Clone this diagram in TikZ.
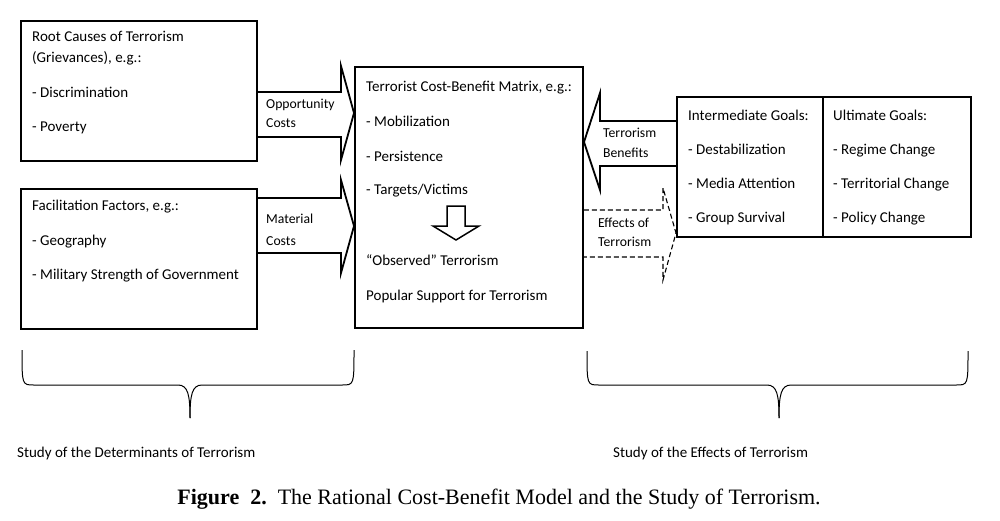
\documentclass[tikz,border=0pt]{standalone}
\usepackage{fontspec}
\setmainfont{Carlito}
\newfontfamily\capfont{Liberation Serif}
\begin{document}
\begin{tikzpicture}[x=1pt,y=-1pt,
  box/.style={draw,line width=1.8pt,anchor=north west,inner sep=0pt},
  txt/.style={anchor=base west,inner sep=0pt,font=\fontsize{15}{18}\selectfont},
  lbl/.style={anchor=base west,inner sep=0pt,font=\fontsize{13.7}{16}\selectfont},
  blockarrow/.style={draw,line width=1.8pt,miter limit=20},
  dasharrow/.style={draw,line width=1.1pt,dash pattern=on 5pt off 3pt},
  bracestyle/.style={draw,line width=1pt}]
\useasboundingbox (0,0) rectangle (1000,520);
% boxes
\node[box,minimum width=236pt,minimum height=140pt] (A) at (20,20) {};
\node[box,minimum width=236pt,minimum height=140pt] (B) at (20,188) {};
\node[box,minimum width=228pt,minimum height=261pt] (C) at (354,66) {};
\node[box,minimum width=146pt,minimum height=140pt] (I) at (676,96) {};
\node[box,minimum width=148pt,minimum height=140pt] (U) at (822,96) {};
% texts box A
\node[txt] (a1) at (32,41) {Root Causes of Terrorism};
\node[txt] (a2) at (32,62) {(Grievances), e.g.:};
\node[txt] (a3) at (32,97) {- Discrimination};
\node[txt] (a4) at (32,131) {- Poverty};
% box B
\node[txt] (b1) at (32,210) {Facilitation Factors, e.g.:};
\node[txt] (b2) at (32,245) {- Geography};
\node[txt] (b3) at (32,279) {- Military Strength of Government};
% center
\node[txt] (c1) at (366,91) {Terrorist Cost-Benefit Matrix, e.g.:};
\node[txt] (c2) at (366,126) {- Mobilization};
\node[txt] (c3) at (366,161) {- Persistence};
\node[txt] (c4) at (366,194) {- Targets/Victims};
\node[txt] (c5) at (366,265) {“Observed” Terrorism};
\node[txt] (c6) at (366,300) {Popular Support for Terrorism};
% intermediate
\node[txt] (i1) at (688,120) {Intermediate Goals:};
\node[txt] (i2) at (688,154) {- Destabilization};
\node[txt] (i3) at (688,188) {- Media Attention};
\node[txt] (i4) at (688,222) {- Group Survival};
% ultimate
\node[txt] (u1) at (833,120) {Ultimate Goals:};
\node[txt] (u2) at (833,154) {- Regime Change};
\node[txt] (u3) at (833,188) {- Territorial Change};
\node[txt] (u4) at (833,222) {- Policy Change};
% arrow labels
\node[lbl] (l1) at (266,108) {Opportunity};
\node[lbl] (l2) at (266,127) {Costs};
\node[lbl] (l3) at (266,223) {Material};
\node[lbl] (l4) at (266,245) {Costs};
\node[lbl] (l5) at (603,137) {Terrorism};
\node[lbl] (l6) at (603,157) {Benefits};
\node[lbl] (l7) at (598,227) {Effects of};
\node[lbl] (l8) at (598,246) {Terrorism};
% block arrows
\path[blockarrow] (A.east |- 0,92) -- (341,92) -- (341,66) -- (C.west |- 0,113) -- (341,160) -- (341,137) -- (A.east |- 0,137);
\path[blockarrow] (B.east |- 0,198) -- (341,198) -- (341,180) -- (C.west |- 0,226) -- (341,273) -- (341,253) -- (B.east |- 0,253);
\path[blockarrow] (I.west |- 0,121) -- (600,121) -- (600,93) -- (584,142) -- (600,190) -- (600,166) -- (I.west |- 0,166);
\path[dasharrow] (C.east |- 0,210) -- (663,210) -- (663,188) -- (676,233) -- (663,280) -- (663,257) -- (C.east |- 0,257);
% hollow down arrow
\path[draw,line width=1.5pt,miter limit=20] (447,206) -- (465,206) -- (465,226) -- (479,226) -- (456,240) -- (433,226) -- (447,226) -- cycle;
% braces
\coordinate (bl1) at (22,350);
\coordinate (bl2) at (354,350);
\coordinate (bl3) at (190,418);
\path[bracestyle] (bl1) .. controls (22,385) and (22,385) .. (34,385) -- (178,385) .. controls (188,385) and (190,395) .. (bl3);
\path[bracestyle] (bl2) .. controls (354,385) and (354,385) .. (342,385) -- (202,385) .. controls (192,385) and (190,395) .. (bl3);
\coordinate (br1) at (587,351);
\coordinate (br2) at (968,351);
\coordinate (br3) at (779,418);
\path[bracestyle] (br1) .. controls (587,385) and (587,385) .. (599,385) -- (767,385) .. controls (777,385) and (779,395) .. (br3);
\path[bracestyle] (br2) .. controls (968,385) and (968,385) .. (956,385) -- (791,385) .. controls (781,385) and (779,395) .. (br3);
\node[txt] (d1) at (17,457) {Study of the Determinants of Terrorism};
\node[txt] (d2) at (613,457) {Study of the Effects of Terrorism};
% caption
\node[anchor=base,inner sep=0pt,font=\capfont\fontsize{22}{24}\selectfont] (cap) at (499,504) {\textbf{Figure\ \ 2.}\ \ The Rational Cost-Benefit Model and the Study of Terrorism.};
\end{tikzpicture}
\end{document}
